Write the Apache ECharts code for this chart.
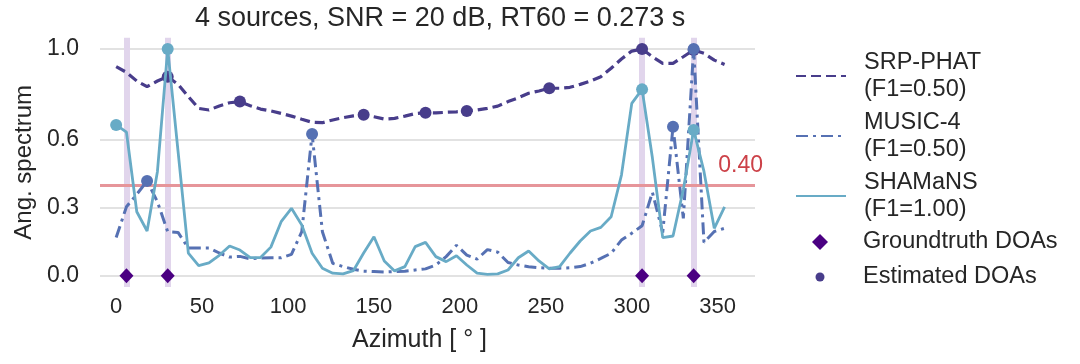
<!DOCTYPE html>
<html>
<head>
<meta charset="utf-8">
<script src="https://cdn.jsdelivr.net/npm/echarts@6/dist/echarts.min.js"></script>
<style>
  html, body { margin: 0; padding: 0; background: #fff; }
  #chart { width: 1080px; height: 364px; }
</style>
</head>
<body>
<div id="chart"></div>
<script>
const azimuth = [0, 6, 12, 18, 24, 30, 36, 42, 48, 54, 60, 66, 72, 78, 84, 90, 96, 102, 108, 114,
  120, 126, 132, 138, 144, 150, 156, 162, 168, 174, 180, 186, 192, 198, 204, 210, 216, 222, 228, 234,
  240, 246, 252, 258, 264, 270, 276, 282, 288, 294, 300, 306, 312, 318, 324, 330, 336, 342, 348, 354]

const srpPhat = [0.922, 0.897, 0.859, 0.834, 0.859, 0.878, 0.844, 0.790, 0.738, 0.731,
  0.749, 0.763, 0.768, 0.750, 0.735, 0.727, 0.716, 0.704, 0.690, 0.677,
  0.675, 0.687, 0.697, 0.705, 0.710, 0.701, 0.691, 0.694, 0.704, 0.715,
  0.719, 0.718, 0.721, 0.723, 0.727, 0.731, 0.738, 0.748, 0.768, 0.785,
  0.805, 0.815, 0.827, 0.827, 0.831, 0.844, 0.859, 0.878, 0.915, 0.956,
  0.991, 1.000, 0.966, 0.937, 0.937, 0.966, 0.996, 0.981, 0.951, 0.932]

const music4 = [0.168, 0.304, 0.359, 0.418, 0.326, 0.194, 0.191, 0.122, 0.122, 0.122,
  0.100, 0.082, 0.085, 0.074, 0.078, 0.079, 0.079, 0.094, 0.194, 0.625,
  0.194, 0.055, 0.040, 0.028, 0.020, 0.018, 0.016, 0.018, 0.020, 0.025,
  0.030, 0.047, 0.084, 0.134, 0.091, 0.073, 0.115, 0.104, 0.058, 0.047,
  0.039, 0.035, 0.033, 0.033, 0.035, 0.040, 0.055, 0.076, 0.099, 0.157,
  0.187, 0.220, 0.368, 0.190, 0.657, 0.253, 1.000, 0.147, 0.195, 0.209]

const shamans = [0.665, 0.633, 0.282, 0.197, 0.459, 1.000, 0.550, 0.099, 0.044, 0.056,
  0.090, 0.131, 0.113, 0.080, 0.080, 0.126, 0.238, 0.297, 0.224, 0.099,
  0.033, 0.011, 0.008, 0.022, 0.100, 0.172, 0.065, 0.021, 0.040, 0.128,
  0.147, 0.084, 0.062, 0.088, 0.047, 0.011, 0.006, 0.008, 0.025, 0.079,
  0.109, 0.065, 0.030, 0.040, 0.099, 0.153, 0.197, 0.213, 0.260, 0.444,
  0.760, 0.822, 0.520, 0.168, 0.175, 0.380, 0.643, 0.460, 0.209, 0.304]

const groundtruthDoas = [6, 30, 306, 336]
const srpEstimates = [30, 72, 144, 180, 204, 252, 306, 336]
const musicEstimates = [18, 114, 324, 336]
const shamansEstimates = [0, 30, 306, 336]

const methodNames = ['SRP-PHAT', 'MUSIC-4', 'SHAMaNS']
const f1Scores = [0.50, 0.50, 1.00]
const threshold = 0.40

const xTicks = [0, 50, 100, 150, 200, 250, 300, 350]
const yTicks = [0, 0.3, 0.6, 1.0]

const colors = {
  srp: '#483d8b',
  music: '#5671b3',
  shamans: '#68abc6',
  truth: '#4b0082',
  band: '#e1d5ec',
  red: '#e6959a',
  redText: '#cc4148',
  grid: '#d8d8d8',
  text: '#262626'
}
const font = 'Liberation Sans, Arial, sans-serif'

const chart = echarts.init(document.getElementById('chart'))

function pairs(values) {
  return azimuth.map((a, i) => [a, values[i]])
}

// markers sit just above their own curve, under the curves drawn after it
function estimateSeries(list, values, color, z) {
  return {
    name: 'Estimated DOAs', type: 'scatter', symbolSize: 12, z: z,
    itemStyle: { color: color, opacity: 1 },
    data: list.map(a => [a, values[azimuth.indexOf(a)]])
  }
}

function legendName(name) {
  const i = methodNames.indexOf(name)
  return name + '\n(F1=' + f1Scores[i].toFixed(2) + ')'
}

const legendText = { fontSize: 23.5, lineHeight: 27, color: '#262626', fontFamily: font }

const options = {
  animation: false,
  textStyle: { fontFamily: font },
  title: {
    text: '4 sources, SNR = 20 dB, RT60 = 0.273 s',
    left: 190, top: 0,
    textStyle: { fontSize: 27, fontWeight: 'normal', color: colors.text, fontFamily: font }
  },
  grid: { left: 100, right: 325, top: 37.7, bottom: 77 },
  legend: [
    {
      data: methodNames,
      orient: 'vertical', left: 795, top: 49, padding: 0,
      itemWidth: 50, itemHeight: 14, itemGap: 6,
      selectedMode: false,
      itemStyle: { opacity: 0 },
      formatter: legendName,
      textStyle: Object.assign({ padding: [0, 0, 0, 13] }, legendText)
    },
    {
      data: ['Groundtruth DOAs'],
      orient: 'vertical', left: 812, top: 228.5, padding: 0,
      itemWidth: 16, itemHeight: 16,
      selectedMode: false,
      textStyle: Object.assign({ padding: [0, 0, 0, 30] }, legendText)
    },
    {
      data: ['Estimated DOAs'],
      orient: 'vertical', left: 815.5, top: 263.5, padding: 0,
      itemWidth: 9, itemHeight: 9,
      selectedMode: false,
      textStyle: Object.assign({ padding: [0, 0, 0, 33.5] }, legendText)
    }
  ],
  xAxis: {
    type: 'value', min: -9.4, max: 371.7,
    axisLine: { show: false }, axisTick: { show: false }, splitLine: { show: false },
    axisLabel: { customValues: xTicks, fontSize: 22, color: colors.text, margin: 9 },
    name: 'Azimuth [ ° ]', nameLocation: 'middle', nameGap: 41,
    nameTextStyle: { fontSize: 25, color: colors.text, padding: [0, 16, 0, 0] }
  },
  yAxis: {
    type: 'value', min: -0.05, max: 1.05,
    axisLine: { show: false }, axisTick: { show: false }, splitLine: { show: false },
    axisLabel: { customValues: yTicks, formatter: v => v.toFixed(1), fontSize: 23, color: colors.text, margin: 21 },
    name: 'Ang. spectrum', nameLocation: 'middle', nameGap: 60,
    nameTextStyle: { fontSize: 24, color: colors.text }
  },
  series: [
    {
      name: 'guides', type: 'line', data: [], silent: true, z: 0,
      markLine: {
        z: 1,
        silent: true, symbol: ['none', 'none'], animation: false,
        label: { show: false },
        data: yTicks.map(v => ({ yAxis: v, lineStyle: { color: colors.grid, width: 1.5, type: 'solid' } }))
          .concat(groundtruthDoas.map(a => ({ xAxis: a, lineStyle: { color: colors.band, width: 6, type: 'solid' } })))
          .concat([{
            yAxis: threshold,
            lineStyle: { color: colors.red, width: 3, type: 'solid' },
            label: {
              show: true, position: 'insideEndTop', formatter: threshold.toFixed(2),
              color: colors.redText, fontSize: 23, fontFamily: font, distance: [-8, 8]
            }
          }])
      }
    },
    {
      name: 'SRP-PHAT', type: 'line', data: pairs(srpPhat), symbol: 'none', z: 2,
      color: colors.srp,
      lineStyle: { color: colors.srp, width: 3.2, type: [10, 5] }
    },
    estimateSeries(srpEstimates, srpPhat, colors.srp, 2.5),
    {
      name: 'MUSIC-4', type: 'line', data: pairs(music4), symbol: 'none', z: 3,
      color: colors.music,
      lineStyle: { color: colors.music, width: 3, type: [12, 5, 3, 5] }
    },
    estimateSeries(musicEstimates, music4, colors.music, 3.5),
    {
      name: 'SHAMaNS', type: 'line', data: pairs(shamans), symbol: 'none', z: 4,
      color: colors.shamans,
      lineStyle: { color: colors.shamans, width: 2.8 }
    },
    estimateSeries(shamansEstimates, shamans, colors.shamans, 4.5),
    {
      name: 'Groundtruth DOAs', type: 'scatter', symbol: 'diamond', symbolSize: [14, 15], z: 6,
      itemStyle: { color: colors.truth, opacity: 1 },
      data: groundtruthDoas.map(a => [a, 0])
    }
  ]
}

chart.setOption(options)
</script>
</body>
</html>
